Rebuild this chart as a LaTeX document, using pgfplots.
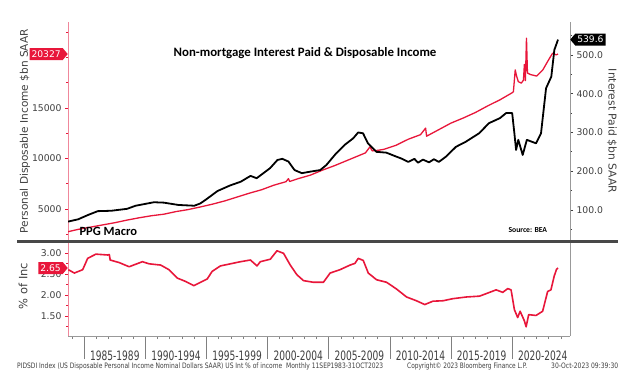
\documentclass[border=0pt]{standalone}
\usepackage{pgfplots}
\pgfplotsset{compat=1.18}
\usepackage{fontspec}
\usetikzlibrary{shapes.symbols}
\setmainfont{DejaVu Sans}
\newfontfamily\tickfont{DejaVu Sans}
\newfontfamily\xlabfont[FakeStretch=0.7]{DejaVu Sans}
\newfontfamily\titlefont{Carlito}
\definecolor{bbred}{RGB}{232,22,58}
\definecolor{bbpink}{RGB}{240,135,155}
\definecolor{tickgray}{RGB}{64,64,64}
\definecolor{sepgray}{RGB}{72,72,72}

\pgfplotstableread{
year val
1983.67 2750
1984.5 2980
1985.5 3200
1986.5 3420
1987.5 3640
1988.5 3900
1989.5 4130
1990.5 4330
1991.5 4480
1992.5 4740
1993.5 4940
1994.5 5200
1995.5 5480
1996.5 5800
1997.5 6180
1998.5 6560
1999.5 6900
2000.5 7350
2001.5 7700
2001.7 8000
2001.8 7720
2002.5 8000
2003.5 8350
2004.5 8850
2005.5 9300
2006.5 9800
2007.5 10300
2008.0 10550
2008.37 11150
2008.55 10750
2009.0 10800
2009.5 10900
2010.5 11300
2011.5 11900
2012.5 12350
2012.92 13000
2013.0 12200
2014.0 12850
2015.0 13500
2016.0 14000
2017.0 14550
2018.0 15200
2019.0 15800
2020.0 16500
2020.1 16600
2020.25 18760
2020.35 18200
2020.5 17600
2020.75 17450
2020.92 17750
2021.0 19300
2021.08 17700
2021.17 21900
2021.25 18450
2021.5 18300
2022.0 18150
2022.5 18750
2023.0 19800
2023.3 20400
2023.6 20250
2023.75 20327
}\pdidata

\pgfplotstableread{
year val
1983.67 70
1984.5 76
1985.3 87
1986.1 97
1987.2 98
1988.5 103
1989.2 111
1990.7 120
1991.5 119
1992.7 113
1994.0 111
1994.5 117
1995.0 128
1995.9 149
1996.9 163
1997.8 173
1998.6 188
1999.1 182
2000.2 208
2000.8 229
2001.2 232
2001.7 225
2002.2 203
2002.8 195
2003.5 199
2004.3 203
2004.8 216
2005.6 246
2006.3 268
2007.0 285
2007.4 300
2007.8 298
2008.2 272
2008.9 250
2009.7 248
2010.5 238
2011.0 232
2011.5 224
2012.0 232
2012.3 222
2012.7 230
2013.2 223
2013.6 231
2014.0 224
2014.6 238
2015.4 263
2016.2 276
2017.3 298
2018.1 324
2019.0 337
2019.5 350
2020.0 350
2020.18 298
2020.32 255
2020.5 281
2020.86 242
2021.2 281
2021.95 272
2022.36 298
2022.77 414
2023.2 444
2023.45 513
2023.75 539.6
}\intdata

\pgfplotstableread{
year val
1983.70 2.61
1984.19 2.53
1984.87 2.61
1985.28 2.88
1985.95 2.98
1986.91 2.96
1987.05 2.97
1987.12 2.84
1987.85 2.78
1988.67 2.68
1989.21 2.74
1989.76 2.80
1990.30 2.75
1991.25 2.72
1991.93 2.61
1992.61 2.41
1993.29 2.33
1993.96 2.23
1994.65 2.33
1995.06 2.39
1995.46 2.57
1996.14 2.70
1996.96 2.75
1997.77 2.80
1998.59 2.84
1999.13 2.70
1999.40 2.80
2000.22 2.86
2000.76 3.06
2001.30 3.00
2001.85 2.72
2002.39 2.49
2002.93 2.35
2003.74 2.31
2004.56 2.31
2005.11 2.53
2005.92 2.61
2006.74 2.72
2007.14 2.76
2007.41 2.88
2007.82 2.83
2008.23 2.53
2008.91 2.37
2009.73 2.31
2010.54 2.15
2011.36 1.96
2012.17 1.87
2012.85 1.78
2013.52 1.86
2014.34 1.87
2015.15 1.92
2016.25 1.96
2017.33 1.98
2018.15 2.07
2018.69 2.13
2019.23 2.07
2019.64 2.16
2019.91 2.13
2020.18 1.66
2020.45 1.47
2020.65 1.62
2021.00 1.39
2021.14 1.25
2021.35 1.54
2021.95 1.52
2022.49 1.62
2022.90 2.09
2023.17 2.13
2023.44 2.46
2023.63 2.62
2023.75 2.65
}\pctdata

\pgfplotsset{
  bbbase/.style={
    scale only axis, width=502bp,
    xmin=1983.67, xmax=2024.73,
    tick align=outside,
    major tick length=3bp, minor tick length=2bp,
    scaled y ticks=false,
    /pgf/number format/assume math mode=true,
    yticklabel style={font=\tickfont\fontsize{9.3}{10}\selectfont, text=tickgray},
  }
}

\begin{document}
\begin{tikzpicture}
\useasboundingbox (0,0) rectangle (640bp,-380bp);
\fill[white] (0,0) rectangle (640bp,-380bp);

% ---------- top panel: disposable income (left axis)
\begin{axis}[bbbase,
  at={(68bp,-241bp)}, anchor=south west, height=219bp,
  ymin=1830, ymax=23500,
  axis x line=none, axis y line*=left,
  axis line style={bbpink, line width=0.9bp},
  tick style={bbred, line width=0.8bp},
  ytick={5000,10000,15000},
  minor ytick={2500,7500,12500,17500,20000,22500},
  yticklabel style={/pgf/number format/1000 sep={}},
]
\addplot[bbred, line width=1.3bp, line join=round] table[x=year,y=val] {\pdidata};
\coordinate (tagL) at (axis cs:1983.67,20327);
\end{axis}

% ---------- top panel: interest paid (right axis)
\begin{axis}[bbbase,
  at={(68bp,-241bp)}, anchor=south west, height=219bp,
  ymin=20, ymax=585,
  axis x line=none, axis y line*=right,
  axis line style={gray!80, line width=0.9bp},
  tick style={tickgray, line width=0.8bp},
  ytick={100,200,300,400,500},
  minor ytick={50,150,250,350,450,550},
  yticklabel style={/pgf/number format/.cd, fixed, fixed zerofill, precision=1},
]
\addplot[black, line width=1.8bp, line join=round] table[x=year,y=val] {\intdata};
\coordinate (tagR) at (axis cs:2024.73,539.6);
\end{axis}

% ---------- bottom panel: % of income
\begin{axis}[bbbase,
  at={(68bp,-241bp)}, anchor=north west, height=95bp,
  ymin=1.031, ymax=3.293,
  axis x line=none, axis y line*=left,
  axis line style={bbpink, line width=0.9bp},
  tick style={bbred, line width=0.8bp},
  ytick={1.5,2,2.5,3},
  minor ytick={1.25,1.75,2.25,2.75,3.25},
  yticklabel style={/pgf/number format/.cd, fixed, fixed zerofill, precision=2},
]
\addplot[bbred, line width=1.6bp, line join=round] table[x=year,y=val] {\pctdata};
\coordinate (tagB) at (axis cs:1983.67,2.65);
\end{axis}

% ---------- bottom panel: x axis
\begin{axis}[bbbase,
  at={(68bp,-241bp)}, anchor=north west, height=95bp,
  ymin=1.031, ymax=3.293,
  axis y line=none, axis x line*=bottom,
  axis line style={gray!80, line width=0.9bp},
  tick style={gray, line width=0.8bp},
  xtick={1985,1990,1995,2000,2005,2010,2015,2020},
  major tick length=23bp,
  minor xtick={1984,1986,1987,1988,1989,1991,1992,1993,1994,1996,1997,1998,1999,2001,2002,2003,2004,2006,2007,2008,2009,2011,2012,2013,2014,2016,2017,2018,2019,2021,2022,2023,2024},
  minor tick length=3bp,
  xticklabels={1985-1989,1990-1994,1995-1999,2000-2004,2005-2009,2010-2014,2015-2019,2020-2024},
  xticklabel style={font=\xlabfont\fontsize{13}{14}\selectfont, text=tickgray, anchor=north, xshift=30.57bp, yshift=12bp},
]
\addplot[draw=none] coordinates {(2000,2)};
\end{axis}

% right frame line of bottom panel
\draw[gray!80, line width=0.9bp] (570bp,-241bp) -- (570bp,-336bp);
% separator
\draw[sepgray, line width=3bp] (17bp,-241bp) -- (618bp,-241bp);

% value tags
\node[signal, signal to=east, signal pointer angle=100, fill=bbred, text=white, anchor=east, inner xsep=2bp, inner ysep=1.5bp, minimum height=12bp, font=\tickfont\fontsize{9.2}{10}\selectfont] at (tagL) {20327};
\node[signal, signal to=west, signal pointer angle=100, fill=black, text=white, anchor=west, inner xsep=2bp, inner ysep=1.5bp, minimum height=12bp, font=\tickfont\fontsize{9.2}{10}\selectfont] at (tagR) {539.6};
\node[signal, signal to=east, signal pointer angle=100, fill=bbred, text=white, anchor=east, inner xsep=2bp, inner ysep=1.5bp, minimum height=12bp, font=\tickfont\fontsize{9.2}{10}\selectfont] at (tagB) {2.65};

% titles and labels
\node[font=\titlefont\bfseries\fontsize{12.9}{15}\selectfont] at (305bp,-53bp) {Non-mortgage Interest Paid \& Disposable Income};
\node[anchor=west, font=\titlefont\bfseries\fontsize{12.6}{14}\selectfont] at (76bp,-231bp) {PPG Macro};
\node[anchor=west, font=\titlefont\bfseries\fontsize{7.7}{9}\selectfont] at (505bp,-230bp) {Source: BEA};
\node[rotate=90, text=tickgray, font=\tickfont\fontsize{10.6}{12}\selectfont] at (25bp,-131bp) {Personal Disposable Income \$bn SAAR};
\node[rotate=-90, text=tickgray, font=\tickfont\fontsize{10.8}{12}\selectfont] at (612bp,-131bp) {Interest Paid \$bn SAAR};
\node[rotate=90, text=tickgray, font=\tickfont\fontsize{11.5}{12}\selectfont] at (23bp,-286bp) {\% of Inc};

% footer
\node[anchor=west, inner sep=0pt, text=tickgray, font=\tickfont\fontsize{7.5}{8}\selectfont] at (17bp,-366bp) {\resizebox{366bp}{\height}{PIDSDI Index (US Disposable Personal Income Nominal Dollars SAAR) US Int \% of income\ \ Monthly 11SEP1983-31OCT2023}};
\node[anchor=west, inner sep=0pt, text=tickgray, font=\tickfont\fontsize{7.5}{8}\selectfont] at (407bp,-366bp) {\resizebox{120bp}{\height}{Copyright\textcopyright\ 2023 Bloomberg Finance L.P.}};
\node[anchor=west, inner sep=0pt, text=tickgray, font=\tickfont\fontsize{7.5}{8}\selectfont] at (551bp,-366bp) {\resizebox{67bp}{\height}{30-Oct-2023 09:39:30}};
\end{tikzpicture}
\end{document}
